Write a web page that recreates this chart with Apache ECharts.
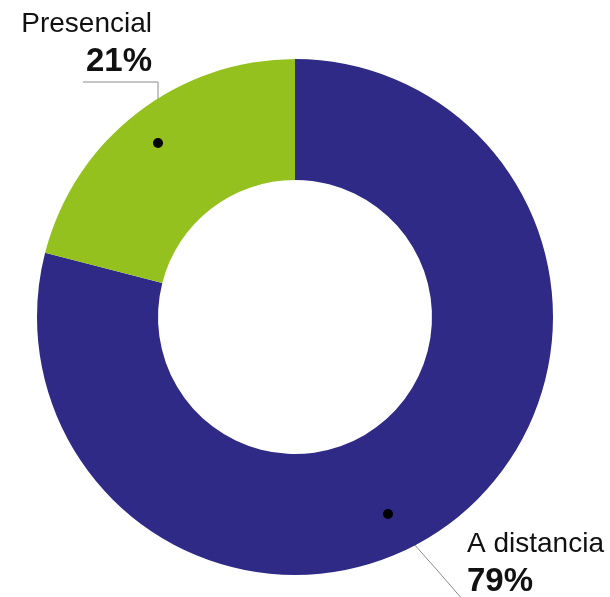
<!DOCTYPE html>
<html>
<head>
<meta charset="utf-8">
<script src="https://cdn.jsdelivr.net/npm/echarts@6/dist/echarts.min.js"></script>
<style>
  html, body { margin: 0; padding: 0; background: #fff; }
  #chart { width: 610px; height: 597px; }
</style>
</head>
<body>
<div id="chart"></div>
<script>
// modalidad
const categories = ['A distancia', 'Presencial']
const values = [79, 21]
const colors = ['#2e2a86', '#95c11f']

// where each label block sits and how its leader line runs
const labelSpots = {
  'Presencial': { x: 152, y: 5, align: 'right', line: [[158, 143], [158, 82], [83, 82]] },
  'A distancia': { x: 467, y: 525, align: 'left', line: [[413, 543], [437, 570], [463, 600]] }
}

const chart = echarts.init(document.getElementById('chart'))

const option = {
  animation: false,
  color: colors,
  textStyle: { fontFamily: 'Liberation Sans, Arial, sans-serif' },
  series: [{
    type: 'pie',
    center: [295, 317],
    radius: [137, 258],
    startAngle: 90,
    clockwise: true,
    silent: true,
    data: categories.map((c, i) => ({ name: c, value: values[i] })),
    label: {
      show: true,
      position: 'outside',
      overflow: 'none',
      width: 200,
      formatter: p => '{a|' + p.name + '}\n{b|' + p.value + '%}',
      rich: {
        a: { fontSize: 28, lineHeight: 38, color: '#111', fontFamily: 'Liberation Sans' },
        b: { fontSize: 33, lineHeight: 38, color: '#111', fontWeight: 'bold', fontFamily: 'Liberation Sans' }
      }
    },
    labelLine: {
      show: true,
      lineStyle: { color: '#8a8a8a', width: 1 }
    },
    labelLayout: function (params) {
      const name = categories[params.dataIndex]
      const s = labelSpots[name]
      return {
        x: s.x,
        y: s.y,
        align: s.align,
        verticalAlign: 'top',
        labelLinePoints: s.line
      }
    }
  }],
  graphic: [
    { type: 'circle', shape: { cx: 158, cy: 143, r: 5 }, style: { fill: '#000' }, z: 100 },
    { type: 'circle', shape: { cx: 388, cy: 514, r: 5 }, style: { fill: '#000' }, z: 100 }
  ]
}

chart.setOption(option)
</script>
</body>
</html>
